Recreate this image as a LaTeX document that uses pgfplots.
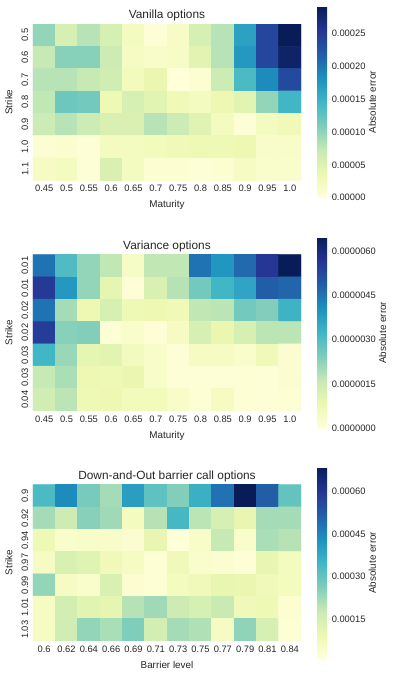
\documentclass[border=0pt]{standalone}
\usepackage{pgfplots}
\pgfplotsset{compat=1.18}
\usepackage{fontspec}
\setmainfont{Liberation Sans}
\definecolor{txt}{RGB}{38,38,38}

\pgfplotsset{
  colormap={YlGnBu}{rgb255=(255,255,217) rgb255=(237,248,177) rgb255=(199,233,180)
    rgb255=(127,205,187) rgb255=(65,182,196) rgb255=(29,145,192) rgb255=(34,94,168)
    rgb255=(37,52,148) rgb255=(8,29,88)},
  heat/.style={
    scale only axis, width=201pt, height=117.25pt, anchor=north west,
    enlargelimits=false, xmin=-0.5, xmax=11.5, ymin=-0.5, ymax=6.5, y dir=reverse,
    xtick={0,...,11}, ytick={0,...,6},
    axis line style={draw=none}, major tick length=0pt,
    tick label style={font=\fontsize{7}{8}\selectfont, text=txt},
    label style={font=\fontsize{7.4}{9}\selectfont, text=txt},
    title style={font=\fontsize{8.9}{10}\selectfont, text=txt, yshift=-7.5pt},
    yticklabel style={rotate=90, anchor=south},
    ylabel={Strike},
    colorbar,
    colorbar style={
      at={(parent axis.east)}, anchor=west, xshift=3.5pt,
      width=7.5pt, height=143.25pt,
      axis line style={draw=none}, major tick length=0pt,
      scaled y ticks=false,
      ylabel={Absolute error}, ylabel shift=-4.5pt,
      yticklabel style={font=\fontsize{7}{8}\selectfont, text=txt,
        /pgf/number format/fixed, /pgf/number format/fixed zerofill,
        /pgf/number format/assume math mode=true},
      ylabel style={font=\fontsize{7.4}{9}\selectfont, text=txt},
    },
  },
}

\begin{document}
\begin{tikzpicture}
\path[use as bounding box] (0,0) rectangle (297.75pt,-505.5pt);

% Vanilla options
\begin{axis}[heat, at={(24.75pt,-18pt)},
  title={Vanilla options}, xlabel={Maturity},
  xticklabels={0.45,0.5,0.55,0.6,0.65,0.7,0.75,0.8,0.85,0.9,0.95,1.0},
  yticklabels={0.5,0.6,0.7,0.8,0.9,1.0,1.1},
  point meta min=0, point meta max=0.000291,
  colorbar style={ytick={0,0.00005,0.0001,0.00015,0.0002,0.00025},
    yticklabel style={/pgf/number format/precision=5}}]
\addplot[matrix plot*, mesh/cols=12, point meta=explicit] coordinates {
(0,0)[9.9e-5] (1,0)[5.8e-5] (2,0)[8.1e-5] (3,0)[5.8e-5] (4,0)[2.3e-5] (5,0)[0.3e-5] (6,0)[1.7e-5] (7,0)[5.8e-5] (8,0)[8.1e-5] (9,0)[16.6e-5] (10,0)[23.9e-5] (11,0)[29.1e-5]
(0,1)[7.3e-5] (1,1)[10.5e-5] (2,1)[10.5e-5] (3,1)[6.7e-5] (4,1)[2.0e-5] (5,1)[1.5e-5] (6,1)[1.7e-5] (7,1)[4.7e-5] (8,1)[8.1e-5] (9,1)[17.5e-5] (10,1)[23.9e-5] (11,1)[28.2e-5]
(0,2)[8.1e-5] (1,2)[8.1e-5] (2,2)[7.3e-5] (3,2)[6.4e-5] (4,2)[2.6e-5] (5,2)[3.8e-5] (6,2)[0.0e-5] (7,2)[0.6e-5] (8,2)[6.7e-5] (9,2)[14.0e-5] (10,2)[18.6e-5] (11,2)[23.6e-5]
(0,3)[7.6e-5] (1,3)[11.9e-5] (2,3)[11.6e-5] (3,3)[3.2e-5] (4,3)[5.8e-5] (5,3)[4.7e-5] (6,3)[2.9e-5] (7,3)[2.3e-5] (8,3)[3.5e-5] (9,3)[4.7e-5] (10,3)[9.9e-5] (11,3)[14.6e-5]
(0,4)[6.7e-5] (1,4)[8.1e-5] (2,4)[6.7e-5] (3,4)[5.5e-5] (4,4)[5.5e-5] (5,4)[8.1e-5] (6,4)[6.7e-5] (7,4)[4.9e-5] (8,4)[2.3e-5] (9,4)[0.3e-5] (10,4)[2.3e-5] (11,4)[2.9e-5]
(0,5)[0.6e-5] (1,5)[0.9e-5] (2,5)[0.3e-5] (3,5)[2.3e-5] (4,5)[2.3e-5] (5,5)[2.6e-5] (6,5)[2.9e-5] (7,5)[3.2e-5] (8,5)[3.2e-5] (9,5)[3.5e-5] (10,5)[1.5e-5] (11,5)[1.5e-5]
(0,6)[2.0e-5] (1,6)[2.3e-5] (2,6)[0.3e-5] (3,6)[5.5e-5] (4,6)[2.3e-5] (5,6)[0.6e-5] (6,6)[0.6e-5] (7,6)[0.3e-5] (8,6)[0.6e-5] (9,6)[2.0e-5] (10,6)[1.2e-5] (11,6)[1.2e-5]
};
\end{axis}

% Variance options
\begin{axis}[heat, at={(24.75pt,-190.9pt)},
  title={Variance options}, xlabel={Maturity},
  xticklabels={0.45,0.5,0.55,0.6,0.65,0.7,0.75,0.8,0.85,0.9,0.95,1.0},
  yticklabels={0.01,0.01,0.02,0.02,0.03,0.03,0.04},
  point meta min=0, point meta max=0.00000646,
  colorbar style={ytick={0,0.0000015,0.000003,0.0000045,0.000006},
    yticklabel style={/pgf/number format/precision=7}}]
\addplot[matrix plot*, mesh/cols=12, point meta=explicit] coordinates {
(0,0)[45.2e-7] (1,0)[30.4e-7] (2,0)[22.0e-7] (3,0)[16.8e-7] (4,0)[3.9e-7] (5,0)[16.8e-7] (6,0)[16.8e-7] (7,0)[45.2e-7] (8,0)[39.4e-7] (9,0)[46.5e-7] (10,0)[56.2e-7] (11,0)[64.6e-7]
(0,1)[55.6e-7] (1,1)[38.8e-7] (2,1)[22.0e-7] (3,1)[9.7e-7] (4,1)[0.6e-7] (5,1)[12.3e-7] (6,1)[18.1e-7] (7,1)[25.8e-7] (8,1)[32.3e-7] (9,1)[36.2e-7] (10,1)[48.5e-7] (11,1)[47.2e-7]
(0,2)[45.2e-7] (1,2)[20.0e-7] (2,2)[7.8e-7] (3,2)[12.9e-7] (4,2)[7.1e-7] (5,2)[7.8e-7] (6,2)[6.5e-7] (7,2)[16.8e-7] (8,2)[17.4e-7] (9,2)[25.8e-7] (10,2)[23.9e-7] (11,2)[32.9e-7]
(0,3)[54.9e-7] (1,3)[23.3e-7] (2,3)[23.9e-7] (3,3)[1.3e-7] (4,3)[2.6e-7] (5,3)[0.6e-7] (6,3)[4.5e-7] (7,3)[12.9e-7] (8,3)[8.4e-7] (9,3)[12.9e-7] (10,3)[17.4e-7] (11,3)[17.4e-7]
(0,4)[32.3e-7] (1,4)[21.3e-7] (2,4)[9.7e-7] (3,4)[10.3e-7] (4,4)[5.2e-7] (5,4)[3.2e-7] (6,4)[0.6e-7] (7,4)[4.5e-7] (8,4)[4.5e-7] (9,4)[2.6e-7] (10,4)[6.5e-7] (11,4)[1.9e-7]
(0,5)[16.2e-7] (1,5)[19.4e-7] (2,5)[7.8e-7] (3,5)[7.1e-7] (4,5)[8.4e-7] (5,5)[3.2e-7] (6,5)[0.6e-7] (7,5)[0.6e-7] (8,5)[0.6e-7] (9,5)[1.0e-7] (10,5)[0.6e-7] (11,5)[1.9e-7]
(0,6)[14.2e-7] (1,6)[17.4e-7] (2,6)[7.1e-7] (3,6)[7.8e-7] (4,6)[5.8e-7] (5,6)[5.8e-7] (6,6)[3.2e-7] (7,6)[1.3e-7] (8,6)[4.5e-7] (9,6)[1.0e-7] (10,6)[0.6e-7] (11,6)[1.0e-7]
};
\end{axis}

% Down-and-Out barrier call options
\begin{axis}[heat, at={(24.75pt,-363.4pt)},
  title={Down-and-Out barrier call options}, xlabel={Barrier level},
  xticklabels={0.6,0.62,0.64,0.66,0.69,0.71,0.73,0.75,0.77,0.79,0.81,0.84},
  yticklabels={0.9,0.92,0.94,0.97,0.99,1.01,1.03},
  point meta min=0.000011, point meta max=0.000686,
  colorbar style={ytick={0.00015,0.0003,0.00045,0.0006},
    yticklabel style={/pgf/number format/precision=5}}]
\addplot[matrix plot*, mesh/cols=12, point meta=explicit] coordinates {
(0,0)[33.5e-5] (1,0)[44.3e-5] (2,0)[27.4e-5] (3,0)[22.0e-5] (4,0)[40.3e-5] (5,0)[30.8e-5] (6,0)[26.1e-5] (7,0)[36.2e-5] (8,0)[48.4e-5] (9,0)[68.6e-5] (10,0)[51.7e-5] (11,0)[30.1e-5]
(0,1)[22.0e-5] (1,1)[16.6e-5] (2,1)[25.4e-5] (3,1)[22.7e-5] (4,1)[6.5e-5] (5,1)[20.0e-5] (6,1)[34.2e-5] (7,1)[19.3e-5] (8,1)[14.6e-5] (9,1)[10.6e-5] (10,1)[22.0e-5] (11,1)[22.0e-5]
(0,2)[8.5e-5] (1,2)[3.8e-5] (2,2)[4.5e-5] (3,2)[4.5e-5] (4,2)[3.1e-5] (5,2)[10.6e-5] (6,2)[1.4e-5] (7,2)[4.5e-5] (8,2)[18.0e-5] (9,2)[3.8e-5] (10,2)[21.4e-5] (11,2)[20.0e-5]
(0,3)[5.8e-5] (1,3)[13.9e-5] (2,3)[12.6e-5] (3,3)[7.9e-5] (4,3)[5.8e-5] (5,3)[2.1e-5] (6,3)[7.9e-5] (7,3)[3.8e-5] (8,3)[3.1e-5] (9,3)[1.8e-5] (10,3)[10.6e-5] (11,3)[6.5e-5]
(0,4)[24.1e-5] (1,4)[5.8e-5] (2,4)[3.8e-5] (3,4)[13.9e-5] (4,4)[3.1e-5] (5,4)[2.1e-5] (6,4)[6.5e-5] (7,4)[7.9e-5] (8,4)[10.6e-5] (9,4)[9.9e-5] (10,4)[7.9e-5] (11,4)[6.5e-5]
(0,5)[5.8e-5] (1,5)[15.3e-5] (2,5)[11.9e-5] (3,5)[11.2e-5] (4,5)[20.0e-5] (5,5)[22.7e-5] (6,5)[16.6e-5] (7,5)[14.6e-5] (8,5)[17.3e-5] (9,5)[7.9e-5] (10,5)[8.5e-5] (11,5)[2.5e-5]
(0,6)[5.8e-5] (1,6)[16.0e-5] (2,6)[24.1e-5] (3,6)[21.4e-5] (4,6)[26.4e-5] (5,6)[15.3e-5] (6,6)[22.0e-5] (7,6)[20.7e-5] (8,6)[5.8e-5] (9,6)[24.7e-5] (10,6)[14.6e-5] (11,6)[2.1e-5]
};
\end{axis}
\end{tikzpicture}
\end{document}
